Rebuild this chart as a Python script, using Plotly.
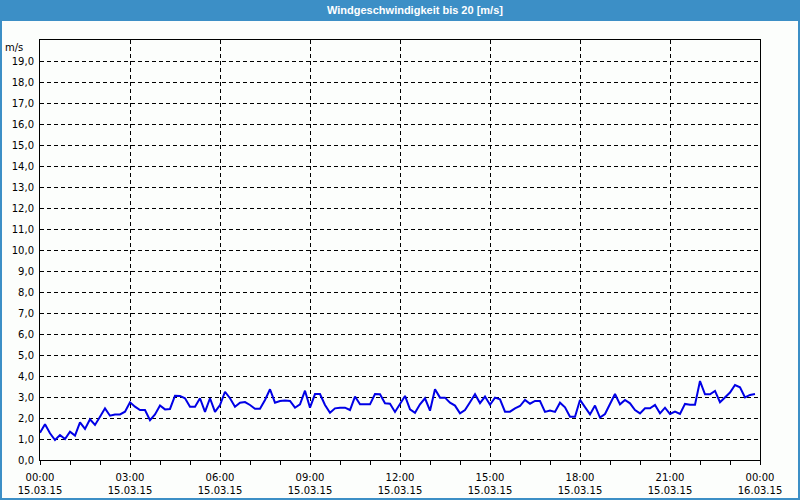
import pandas as pd
import plotly.graph_objects as go

# ---- data ----
start_time = "2015-03-15 00:00"
end_time = "2015-03-16 00:00"
n_points = 144  # one reading every 10 minutes
wind_speed = [
    1.30, 1.70, 1.27, 0.95, 1.19, 1.00, 1.35, 1.16, 1.79, 1.48, 1.94, 1.67, 2.06, 2.46, 2.11, 2.17, 2.17, 2.30, 2.75, 2.54, 2.38, 2.38, 1.90, 2.17, 2.60,
    2.41, 2.43, 3.06, 3.05, 2.94, 2.54, 2.54, 2.94, 2.29, 2.94, 2.29, 2.62, 3.25, 2.94, 2.54, 2.73, 2.76, 2.62, 2.44, 2.44, 2.86, 3.37, 2.73, 2.81,
    2.83, 2.81, 2.49, 2.65, 3.30, 2.49, 3.14, 3.14, 2.62, 2.25, 2.46, 2.49, 2.49, 2.38, 3.02, 2.65, 2.65, 2.65, 3.14, 3.13, 2.70, 2.68, 2.29, 2.67,
    3.05, 2.41, 2.25, 2.65, 2.94, 2.35, 3.37, 2.97, 2.97, 2.73, 2.59, 2.22, 2.38, 2.75, 3.13, 2.71, 3.02, 2.63, 2.97, 2.89, 2.30, 2.30, 2.46, 2.57,
    2.86, 2.68, 2.81, 2.81, 2.29, 2.35, 2.29, 2.73, 2.51, 2.06, 2.06, 2.86, 2.49, 2.17, 2.59, 2.02, 2.19, 2.70, 3.14, 2.65, 2.86, 2.70, 2.38, 2.22,
    2.46, 2.46, 2.62, 2.22, 2.49, 2.19, 2.30, 2.19, 2.67, 2.63, 2.63, 3.76, 3.13, 3.13, 3.29, 2.75, 2.98, 3.21, 3.57, 3.46, 2.98, 3.10, 3.14,
]
times = pd.date_range(start_time, periods=n_points, freq="10min")

x_tick_vals = ["2015-03-15 00:00", "2015-03-15 03:00", "2015-03-15 06:00", "2015-03-15 09:00",
               "2015-03-15 12:00", "2015-03-15 15:00", "2015-03-15 18:00", "2015-03-15 21:00",
               "2015-03-16 00:00"]
x_tick_text = ["00:00<br>15.03.15", "03:00<br>15.03.15", "06:00<br>15.03.15", "09:00<br>15.03.15",
               "12:00<br>15.03.15", "15:00<br>15.03.15", "18:00<br>15.03.15", "21:00<br>15.03.15",
               "00:00<br>16.03.15"]
y_tick_vals = list(range(0, 20))
y_tick_text = ["0,0", "1,0", "2,0", "3,0", "4,0", "5,0", "6,0", "7,0", "8,0", "9,0",
               "10,0", "11,0", "12,0", "13,0", "14,0", "15,0", "16,0", "17,0", "18,0", "19,0"]
title_text = "Windgeschwindigkeit bis 20 [m/s]"
unit_text = "m/s"

# ---- layout constants ----
W, H = 800, 500
ML, MR, MT, MB = 40, 40, 40, 40
PW, PH = W - ML - MR, H - MT - MB
BAR_H = 20
BLUE = "#3C8FC6"
BG = "#FCFEFC"
FONT = "DejaVu Sans"


def px_x(px):
    return (px - ML) / PW


def px_y(py_from_top):
    return (H - MB - py_from_top) / PH


fig = go.Figure()
fig.add_trace(go.Scatter(x=times, y=wind_speed, mode="lines",
                         line=dict(color="#0000E6", width=2), hoverinfo="x+y"))

fig.update_layout(
    width=W, height=H,
    margin=dict(l=ML, r=MR, t=MT, b=MB, autoexpand=False),
    paper_bgcolor=BG, plot_bgcolor=BG,
    showlegend=False,
    font=dict(family=FONT, size=10, color="#000000"),
    xaxis=dict(
        range=[start_time, end_time], automargin=False,
        tickmode="array", tickvals=x_tick_vals, ticktext=x_tick_text,
        ticks="outside", ticklen=4, tickcolor="black", ticklabelstandoff=4,
        showgrid=True, gridcolor="black", gridwidth=1, griddash="4px,3px",
        showline=True, linecolor="black", linewidth=1, mirror=True,
        zeroline=False,
        minor=dict(dtick=3600000, tick0=start_time, ticks="outside", ticklen=4,
                   tickcolor="black", showgrid=False),
        tickfont=dict(family=FONT, size=10),
    ),
    yaxis=dict(
        range=[0, 20], automargin=False,
        tickmode="array", tickvals=y_tick_vals, ticktext=y_tick_text,
        ticks="", ticklabelstandoff=3,
        showgrid=True, gridcolor="black", gridwidth=1, griddash="4px,3px",
        showline=True, linecolor="black", linewidth=1, mirror=True,
        zeroline=False,
        tickfont=dict(family=FONT, size=10),
    ),
    shapes=[
        dict(type="rect", xref="paper", yref="paper",
             x0=px_x(0), x1=px_x(W), y0=px_y(BAR_H), y1=px_y(0),
             fillcolor=BLUE, line=dict(width=0), layer="below"),
        dict(type="rect", xref="paper", yref="paper",
             x0=px_x(1), x1=px_x(W - 1), y0=px_y(H - 1), y1=px_y(BAR_H),
             fillcolor="rgba(0,0,0,0)", line=dict(color=BLUE, width=2)),
    ],
    annotations=[
        dict(text="<b>" + title_text + "</b>", xref="paper", yref="paper",
             x=px_x(415), y=px_y(10), xanchor="center", yanchor="middle",
             showarrow=False, font=dict(family="Liberation Sans", size=11, color="white")),
        dict(text=unit_text, xref="paper", yref="paper",
             x=px_x(25), y=px_y(47), xanchor="right", yanchor="middle",
             showarrow=False, font=dict(family=FONT, size=10, color="black")),
    ],
)

fig.write_html("out.html")
